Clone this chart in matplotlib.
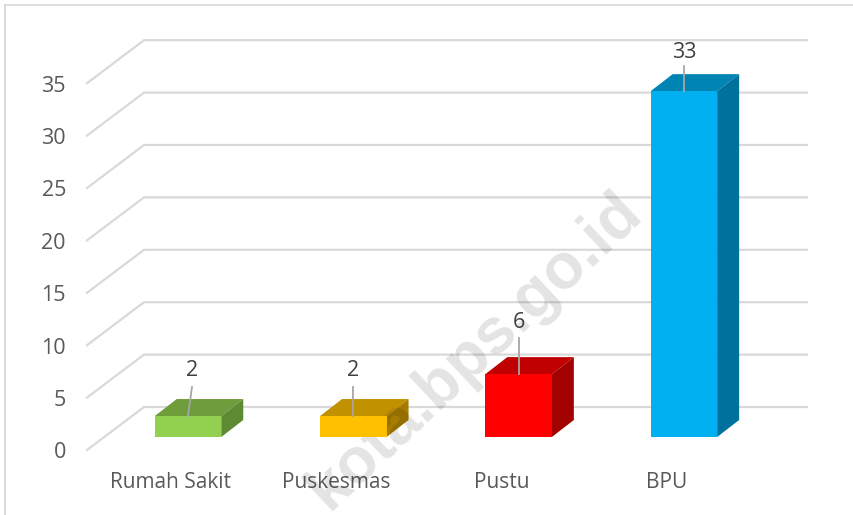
import matplotlib
matplotlib.use('Agg')
import matplotlib.pyplot as plt
from matplotlib.patches import Polygon

categories = ['Rumah Sakit', 'Puskesmas', 'Pustu', 'BPU']
values = [2, 2, 6, 33]
yticks = [0, 5, 10, 15, 20, 25, 30, 35]
front_colors = ['#92D050', '#FFC000', '#FF0000', '#00B0F0']
top_colors = ['#6F9D3C', '#C29100', '#C00000', '#0084B4']
side_colors = ['#5E8A33', '#A67C00', '#A30000', '#00719C']
leader_tilt = [4, 0, 0, 0]
leader_len = [29, 29, 36, 25]
label_gap = [46, 46, 52, 39]

W, H = 854, 515
PX_X = 165.3    # px per category
PX_Y = 10.48    # px per value unit
X0, Y0 = 188, 437    # px of first bar centre / bar base

plt.rcParams['font.family'] = ['Open Sans', 'DejaVu Sans']

fig = plt.figure(figsize=(W / 100, H / 100), dpi=100)
ax = fig.add_axes([0, 0, 1, 1])
ax.set_xlim(-X0 / PX_X, (W - X0) / PX_X)
ax.set_ylim((Y0 - H) / PX_Y, Y0 / PX_Y)
ax.axis('off')


def dx(px):
    return px / PX_X


def dy(px):
    return px / PX_Y


bar_w = 66.5 / PX_X
depth_x, depth_y = dx(22), dy(17)

# outer frame of the pasted chart
ax.plot([dx(4.5 - X0), dx(4.5 - X0)], [dy(Y0 - H), dy(Y0 - 4.5)], color='#d9d9d9', lw=1.4, zorder=1)
ax.plot([dx(4.5 - X0), dx(W - X0)], [dy(Y0 - 4.5), dy(Y0 - 4.5)], color='#d9d9d9', lw=1.2, zorder=1)

# floor/back wall gridlines
floor_y = dy(-13)
for t in yticks:
    xs = [dx(87 - X0), dx(144 - X0), dx(807 - X0)]
    ys = [floor_y + t, floor_y + t + dy(43), floor_y + t + dy(43)]
    ax.plot(xs, ys, color='#d9d9d9', lw=1.6, solid_joinstyle='miter', zorder=2)
    ax.text(dx(66 - X0), floor_y + t - dy(3), str(t), ha='right', va='center', fontsize=15.5, color='#595959')

for i, (name, v) in enumerate(zip(categories, values)):
    l, r = i - bar_w / 2, i + bar_w / 2
    ax.add_patch(Polygon([(l, v), (r, v), (r + depth_x, v + depth_y), (l + depth_x, v + depth_y)],
                         fc=top_colors[i], ec='none', zorder=3))
    ax.add_patch(Polygon([(r, 0), (r + depth_x, depth_y), (r + depth_x, v + depth_y), (r, v)],
                         fc=side_colors[i], ec='none', zorder=3))
    ax.add_patch(Polygon([(l, 0), (r, 0), (r, v), (l, v)], fc=front_colors[i], ec='none', zorder=5))
    # leader line and data label
    ax.plot([i, i + dx(leader_tilt[i])], [v, v + dy(leader_len[i])], color='#a6a6a6', lw=1.3, zorder=6)
    ax.text(i + dx(leader_tilt[i]), v + dy(label_gap[i]), str(v), ha='center', va='center',
            fontsize=15.5, color='#404040', zorder=7)
    ax.text(i - dx(17), dy(-46), name, ha='center', va='center', fontsize=15, color='#595959')

# watermark sits between the bar sides and the bar fronts
ax.text(dx(475 - X0), dy(Y0 - 351), 'kota.bps.go.id', rotation=43.2, rotation_mode='anchor',
        ha='center', va='center', fontsize=46, fontweight='bold', color='black', alpha=0.11,
        family=['Liberation Sans', 'DejaVu Sans'], zorder=4, clip_on=True)

fig.savefig('out.png', dpi=100)
